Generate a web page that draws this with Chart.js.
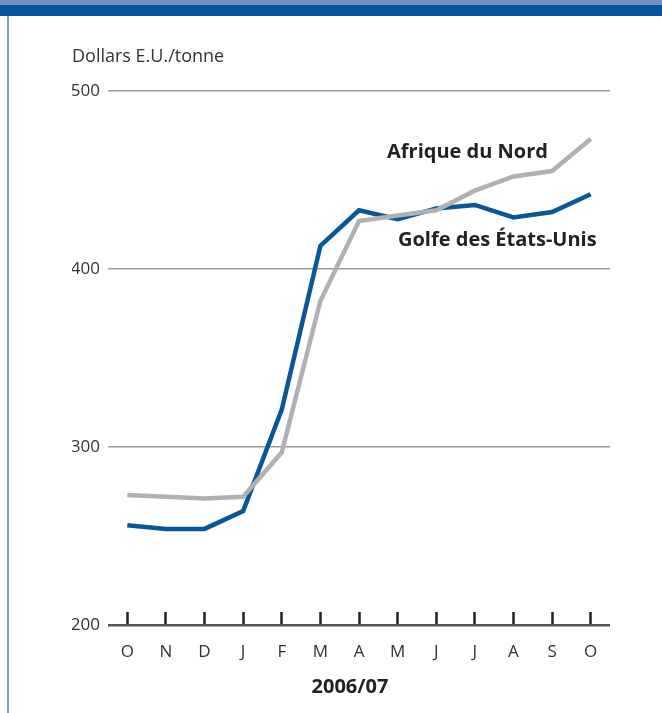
<!DOCTYPE html>
<html lang="fr">
<head>
<meta charset="utf-8">
<title>Prix à l'exportation</title>
<script src="https://cdn.jsdelivr.net/npm/chart.js@4/dist/chart.umd.min.js"></script>
<style>
  html, body { margin: 0; padding: 0; background: #fff; }
  #wrap { width: 662px; height: 713px; position: relative; }
</style>
</head>
<body>
<div id="wrap"><canvas id="prix" width="662" height="713"></canvas></div>
<script>
// Mois, octobre 2006 à octobre 2007
const MOIS = ['O', 'N', 'D', 'J', 'F', 'M', 'A', 'M', 'J', 'J', 'A', 'S', 'O'];

// Dollars E.U./tonne
const AFRIQUE_NORD = [273, 272, 271, 272, 297, 382, 427, 430, 433, 444, 452, 455, 473];
const GOLFE_EU     = [256, 254, 254, 264, 321, 413, 433, 428, 434, 436, 429, 432, 442];

const Y_TICKS = [200, 300, 400, 500];

const FONT = "'Open Sans', 'DejaVu Sans', sans-serif";
const INK = '#333333';
const BLEU = '#07579a';
const GRIS = '#b1b1b5';

// Cadre de la page : bandeau en haut, filet à gauche
const cadre = {
  id: 'cadre',
  beforeDraw(chart) {
    const ctx = chart.ctx;
    ctx.save();
    ctx.fillStyle = '#fff';
    ctx.fillRect(0, 0, chart.width, chart.height);
    ctx.fillStyle = '#7090c0';
    ctx.fillRect(0, 0, chart.width, 5);
    ctx.fillStyle = '#03579a';
    ctx.fillRect(0, 5, chart.width, 11);
    ctx.fillStyle = '#7f9fb8';
    ctx.fillRect(7, 16, 2, chart.height - 16);
    ctx.restore();
  }
};

// Noms des séries à côté des courbes, et la période sous l'axe
const etiquettes = {
  id: 'etiquettes',
  afterDatasetsDraw(chart) {
    const ctx = chart.ctx;
    ctx.save();
    ctx.font = `bold 20px ${FONT}`;
    ctx.fillStyle = '#222';
    ctx.textBaseline = 'middle';
    ctx.textAlign = 'left';
    ctx.fillText('Afrique du Nord', 387, 152);
    ctx.fillText('Golfe des États-Unis', 398, 240);
    ctx.textAlign = 'center';
    ctx.fillText('2006/07', 350, 687);
    ctx.restore();
  }
};

new Chart(document.getElementById('prix'), {
  type: 'line',
  data: {
    labels: MOIS,
    datasets: [
      {
        label: 'Afrique du Nord',
        data: AFRIQUE_NORD,
        borderColor: GRIS,
        borderWidth: 4.5,
        pointRadius: 0,
        tension: 0
      },
      {
        label: 'Golfe des États-Unis',
        data: GOLFE_EU,
        borderColor: BLEU,
        borderWidth: 4.5,
        pointRadius: 0,
        tension: 0
      }
    ]
  },
  options: {
    responsive: false,
    animation: false,
    layout: { padding: { top: 46, left: 72, right: 52, bottom: 0 } },
    plugins: {
      legend: { display: false },
      tooltip: { enabled: false },
      title: {
        display: true,
        text: 'Dollars E.U./tonne',
        align: 'start',
        color: INK,
        font: { family: FONT, size: 18, weight: 'normal', lineHeight: 1.2 },
        padding: { top: 0, bottom: 23.4 }
      }
    },
    scales: {
      x: {
        type: 'category',
        offset: true,
        border: { display: false },
        grid: {
          offset: false,
          drawOnChartArea: false,
          drawTicks: true,
          tickLength: -13,
          tickWidth: 2.5,
          tickColor: '#222'
        },
        ticks: {
          color: INK,
          font: { family: FONT, size: 17 },
          padding: 30,
          maxRotation: 0,
          autoSkip: false
        },
        afterFit(scale) { scale.height = 88; }
      },
      y: {
        min: 200,
        max: 500,
        border: { display: false },
        afterBuildTicks(scale) {
          scale.ticks = Y_TICKS.map(v => ({ value: v }));
        },
        grid: {
          drawTicks: false,
          color: ctx => ctx.tick && ctx.tick.value === 200 ? '#555' : '#9a9a9a',
          lineWidth: ctx => ctx.tick && ctx.tick.value === 200 ? 2.5 : 1.5
        },
        ticks: {
          color: INK,
          font: { family: FONT, size: 17 },
          padding: 8
        },
        afterFit(scale) { scale.width = 36; }
      }
    }
  },
  plugins: [cadre, etiquettes]
});
</script>
</body>
</html>
